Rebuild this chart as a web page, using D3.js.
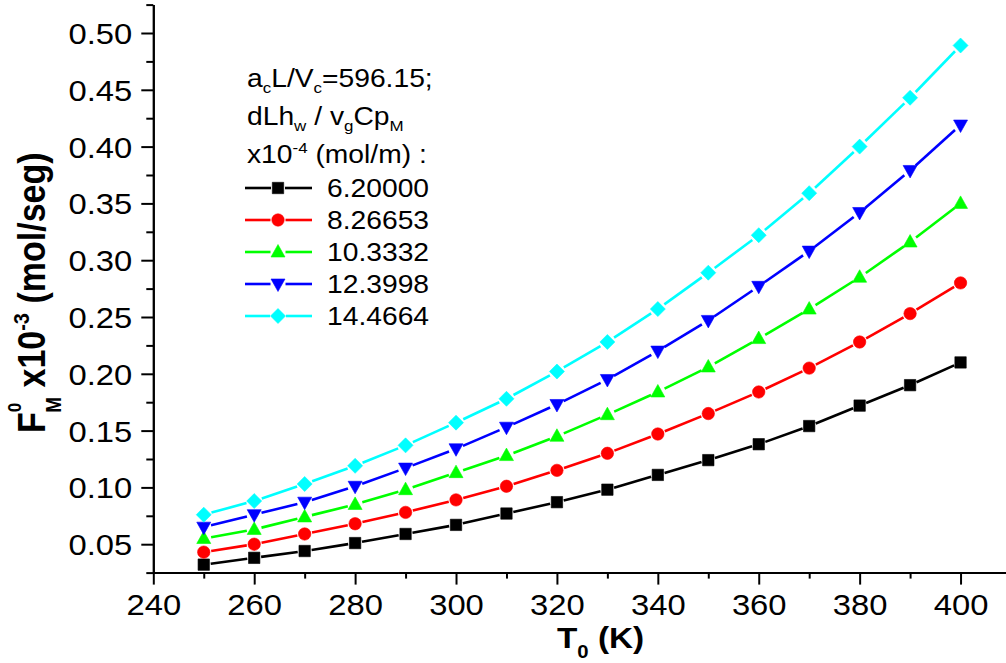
<!DOCTYPE html>
<html>
<head>
<meta charset="utf-8">
<script src="https://cdn.jsdelivr.net/npm/d3@7"></script>
<style>
  body { margin: 0; background: #fff; }
  svg { display: block; }
  text { font-family: "Liberation Sans", Arial, Helvetica, sans-serif; fill: #000; }
</style>
</head>
<body>
<svg id="chart" width="1006" height="663"></svg>
<script>
// ---------------- data ----------------
const temperatures = [250, 260, 270, 280, 290, 300, 310, 320, 330, 340, 350, 360, 370, 380, 390, 400];
const series620000 = [0.032, 0.038, 0.044, 0.051, 0.059, 0.067, 0.077, 0.087, 0.098, 0.111, 0.124, 0.138, 0.154, 0.172, 0.190, 0.210];
const series826653 = [0.043, 0.050, 0.059, 0.068, 0.078, 0.089, 0.101, 0.115, 0.130, 0.147, 0.165, 0.184, 0.205, 0.228, 0.253, 0.280];
const series103332 = [0.055, 0.063, 0.074, 0.085, 0.098, 0.113, 0.128, 0.145, 0.164, 0.184, 0.206, 0.231, 0.257, 0.285, 0.316, 0.350];
const series123998 = [0.065, 0.076, 0.087, 0.101, 0.117, 0.134, 0.153, 0.173, 0.195, 0.220, 0.247, 0.277, 0.308, 0.342, 0.379, 0.419];
const series144664 = [0.076, 0.088, 0.103, 0.119, 0.137, 0.157, 0.178, 0.202, 0.228, 0.257, 0.289, 0.322, 0.359, 0.400, 0.443, 0.489];
const seriesNames = ["6.20000", "8.26653", "10.3332", "12.3998", "14.4664"];
const xTickValues = [240, 260, 280, 300, 320, 340, 360, 380, 400];
const xMinorTickValues = [250, 270, 290, 310, 330, 350, 370, 390, 410];
const yTickValues = [0.05, 0.10, 0.15, 0.20, 0.25, 0.30, 0.35, 0.40, 0.45, 0.50];
const yMinorTickValues = [0.025, 0.075, 0.125, 0.175, 0.225, 0.275, 0.325, 0.375, 0.425, 0.475, 0.525];

const seriesValues = [series620000, series826653, series103332, series123998, series144664];
const seriesColors = ["#000000", "#ff0000", "#00ff00", "#0000ff", "#00ffff"];
const seriesMarkers = ["square", "circle", "triangleUp", "triangleDown", "diamond"];

// ---------------- layout ----------------
const SX = 1.13; // horizontal text stretch of the original picture
const svg = d3.select("#chart");
const x = d3.scaleLinear().domain([240, 410]).range([153.3, 1011]);
const y = d3.scaleLinear().domain([0.025, 0.525]).range([572.6, 4.6]);

// ---------------- axes ----------------
const yAxisMinor = d3.axisLeft(y).tickValues(yMinorTickValues).tickSize(7).tickSizeOuter(0).tickFormat("");
const yAxis = d3.axisLeft(y).tickValues(yTickValues).tickSize(12).tickSizeOuter(0).tickFormat(d3.format(".2f"));
const xAxisMinor = d3.axisBottom(x).tickValues(xMinorTickValues).tickSize(6).tickSizeOuter(0).tickFormat("");
const xAxis = d3.axisBottom(x).tickValues(xTickValues).tickSize(12).tickSizeOuter(0).tickFormat(d3.format("d"));

function styleAxis(g) {
  g.selectAll("path.domain").attr("stroke", "#000").attr("stroke-width", 2);
  g.selectAll(".tick line").attr("stroke", "#000").attr("stroke-width", 2);
}

svg.append("g").attr("transform", `translate(${x(240)},0)`).call(yAxisMinor).call(styleAxis);
const gy = svg.append("g").attr("transform", `translate(${x(240)},0)`).call(yAxis).call(styleAxis);
gy.selectAll(".tick text")
  .attr("x", 0).attr("dy", "0.36em")
  .attr("text-anchor", "end")
  .attr("font-size", 29)
  .attr("transform", `translate(-21,0) scale(${SX},1)`);

svg.append("g").attr("transform", `translate(0,${y(0.025)})`).call(xAxisMinor).call(styleAxis);
const gx = svg.append("g").attr("transform", `translate(0,${y(0.025)})`).call(xAxis).call(styleAxis);
gx.selectAll(".tick text")
  .attr("y", 0).attr("dy", 0)
  .attr("text-anchor", "middle")
  .attr("font-size", 29)
  .attr("transform", `translate(0,42.5) scale(${SX},1)`);
svg.selectAll("g text").attr("fill", "#000").attr("font-family", null);

// ---------------- axis titles ----------------
const xTitle = svg.append("g").attr("transform", `translate(557,647.5) scale(${SX},1)`)
  .append("text").attr("font-size", 29.5).attr("font-weight", "bold");
xTitle.append("tspan").text("T");
xTitle.append("tspan").attr("font-size", 18).attr("dy", 10).text("0");
xTitle.append("tspan").attr("dy", -10).text(" (K)");

const yTitle = svg.append("g").attr("transform", `translate(45,433) scale(${SX},1) rotate(-90)`)
  .append("text").attr("font-size", 34).attr("font-weight", "bold");
yTitle.append("tspan").text("F");
yTitle.append("tspan").attr("font-size", 17).attr("dy", -21).text("0");
yTitle.append("tspan").attr("font-size", 19).attr("dx", -10).attr("dy", 35).text("M");
yTitle.append("tspan").attr("dy", -14).text(" x10");
yTitle.append("tspan").attr("font-size", 20).attr("dy", -14).text("-3");
yTitle.append("tspan").attr("dy", 14).text(" (mol/seg)");

// ---------------- markers ----------------
function markerPath(type) {
  switch (type) {
    case "square": return "M-5.7,-5.7H5.7V5.7H-5.7Z";
    case "circle": return "M6.2,0A6.2,6.2 0 1,1 -6.2,0A6.2,6.2 0 1,1 6.2,0Z";
    case "triangleUp": return "M0,-7.5L7,5L-7,5Z";
    case "triangleDown": return "M-7,-5L7,-5L0,7.5Z";
    case "diamond": return "M0,-7.5L7.5,0L0,7.5L-7.5,0Z";
  }
}
const markerGap = { square: 7, circle: 7.5, triangleUp: 7.5, triangleDown: 7.5, diamond: 8 };

// ---------------- series ----------------
seriesValues.forEach((vals, si) => {
  const color = seriesColors[si];
  const mk = seriesMarkers[si];
  const g = svg.append("g");
  const pts = temperatures.map((t, i) => [x(t), y(vals[i])]);
  const segs = [];
  for (let i = 0; i < pts.length - 1; i++) {
    const [x0, y0] = pts[i], [x1, y1] = pts[i + 1];
    const dx = x1 - x0, dy = y1 - y0, L = Math.hypot(dx, dy);
    const gp = markerGap[mk];
    if (L > 2 * gp) {
      segs.push([x0 + dx / L * gp, y0 + dy / L * gp, x1 - dx / L * gp, y1 - dy / L * gp]);
    }
  }
  g.selectAll("line").data(segs).join("line")
    .attr("x1", d => d[0]).attr("y1", d => d[1]).attr("x2", d => d[2]).attr("y2", d => d[3])
    .attr("stroke", color).attr("stroke-width", 2.6);
  g.selectAll("path").data(pts).join("path")
    .attr("d", markerPath(mk))
    .attr("transform", d => `translate(${d[0]},${d[1]})`)
    .attr("fill", color).attr("stroke", color).attr("stroke-width", 0.6);
});

// ---------------- legend ----------------
const lg = svg.append("g");
const h1 = lg.append("g").attr("transform", `translate(247,87) scale(${SX},1)`).append("text").attr("font-size", 25);
h1.append("tspan").text("a");
h1.append("tspan").attr("font-size", 15).attr("dy", 6).text("c");
h1.append("tspan").attr("dy", -6).text("L/V");
h1.append("tspan").attr("font-size", 15).attr("dy", 6).text("c");
h1.append("tspan").attr("dy", -6).text("=596.15;");

const h2 = lg.append("g").attr("transform", `translate(247,125) scale(${SX},1)`).append("text").attr("font-size", 25);
h2.append("tspan").text("dLh");
h2.append("tspan").attr("font-size", 15).attr("dy", 6).text("w");
h2.append("tspan").attr("dy", -6).text(" / v");
h2.append("tspan").attr("font-size", 15).attr("dy", 6).text("g");
h2.append("tspan").attr("dy", -6).text("Cp");
h2.append("tspan").attr("font-size", 15).attr("dy", 6).text("M");

const h3 = lg.append("g").attr("transform", `translate(247,163) scale(${SX},1)`).append("text").attr("font-size", 25);
h3.append("tspan").text("x10");
h3.append("tspan").attr("font-size", 15).attr("dy", -10).text("-4");
h3.append("tspan").attr("dy", 10).text(" (mol/m) :");

seriesNames.forEach((name, si) => {
  const base = 197 + si * 32;
  const cy = base - 9;
  const mk = seriesMarkers[si];
  const gp = markerGap[mk];
  const e = lg.append("g");
  e.append("line").attr("x1", 245).attr("x2", 278 - gp).attr("y1", cy).attr("y2", cy)
    .attr("stroke", seriesColors[si]).attr("stroke-width", 2.6);
  e.append("line").attr("x1", 278 + gp).attr("x2", 312).attr("y1", cy).attr("y2", cy)
    .attr("stroke", seriesColors[si]).attr("stroke-width", 2.6);
  e.append("path").attr("d", markerPath(mk)).attr("transform", `translate(278,${cy})`)
    .attr("fill", seriesColors[si]).attr("stroke", seriesColors[si]).attr("stroke-width", 0.6);
  e.append("g").attr("transform", `translate(327,${base}) scale(${SX},1)`)
    .append("text").attr("font-size", 25).text(name);
});
</script>
</body>
</html>
